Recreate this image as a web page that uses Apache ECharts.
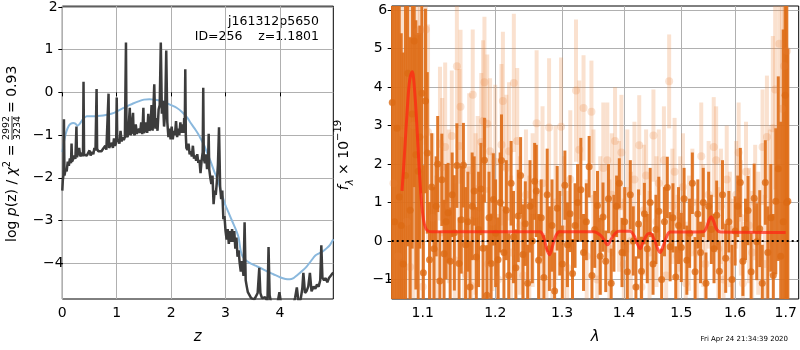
<!DOCTYPE html>
<html><head><meta charset="utf-8">
<script src="https://cdn.jsdelivr.net/npm/echarts@6/dist/echarts.min.js"></script>
<style>html,body{margin:0;padding:0;background:#fff}#c{width:800px;height:350px}</style>
</head><body><div id="c"></div>
<script>
// ---- p(z) panel ----
const pzZ = [0.00,0.01,0.02,0.03,0.04,0.06,0.08,0.10,0.12,0.14,0.16,0.17,0.18,0.20,0.22,0.24,0.26,0.27,0.29,0.31,0.33,0.35,0.37,0.38,0.39,0.40,0.42,0.45,0.48,0.50,0.52,0.55,0.57,0.59,0.61,0.63,0.64,0.66,0.69,0.72,0.75,0.77,0.79,0.81,0.83,0.85,0.86,0.88,0.91,0.93,0.95,0.97,0.99,1.00,1.01,1.03,1.05,1.07,1.09,1.11,1.13,1.15,1.17,1.18,1.20,1.22,1.24,1.25,1.27,1.29,1.30,1.31,1.33,1.35,1.37,1.39,1.41,1.43,1.45,1.47,1.49,1.50,1.52,1.54,1.56,1.58,1.60,1.62,1.64,1.66,1.69,1.71,1.73,1.75,1.77,1.79,1.81,1.83,1.85,1.87,1.89,1.91,1.93,1.95,1.97,1.99,2.01,2.03,2.05,2.07,2.09,2.11,2.13,2.15,2.17,2.19,2.21,2.23,2.24,2.25,2.26,2.27,2.28,2.30,2.32,2.34,2.36,2.38,2.40,2.42,2.44,2.46,2.48,2.50,2.52,2.54,2.56,2.58,2.59,2.60,2.62,2.64,2.66,2.68,2.69,2.70,2.72,2.74,2.76,2.78,2.80,2.82,2.84,2.86,2.88,2.90,2.92,2.94,2.96,2.98,3.00,3.02,3.04,3.06,3.08,3.10,3.12,3.14,3.16,3.18,3.20,3.22,3.24,3.26,3.28,3.30,3.33,3.35,3.37,3.39,3.41,3.44,3.47,3.50,3.53,3.56,3.59,3.62,3.64,3.67,3.70,3.73,3.77,3.79,3.81,3.84,3.88,3.92,3.96,3.99,4.02,4.06,4.10,4.15,4.20,4.25,4.28,4.31,4.34,4.38,4.41,4.43,4.46,4.49,4.52,4.55,4.58,4.62,4.65,4.68,4.71,4.74,4.76,4.78,4.81,4.84,4.87,4.90,4.93,4.96,4.98];
const pzLog = [-2.30,-2.05,-1.95,-0.63,-1.95,-1.80,-1.85,-1.62,-1.72,-1.55,-1.66,-1.20,-1.62,-1.56,-1.48,-1.56,-0.80,-1.52,-1.53,-1.30,-1.50,-1.52,-1.42,-1.50,0.25,-1.46,-1.50,-1.48,-1.51,-1.36,-1.48,-1.40,-1.45,-1.30,-1.36,0.08,-1.32,-1.38,-1.35,-1.38,-1.32,-1.36,-1.25,-1.34,-1.30,-0.03,-1.30,-1.28,-1.18,-1.30,-1.08,-1.25,-1.18,-0.12,-1.15,-1.10,-1.20,-0.90,-1.15,-1.05,-1.12,-1.05,1.17,-1.00,-1.05,-0.80,-0.36,-1.00,-0.95,-0.60,-0.48,-0.95,-1.00,-0.75,-0.97,-1.00,-0.85,-0.95,-0.70,-0.98,-0.36,-0.95,-0.90,-0.70,-0.95,-0.50,-0.90,-0.85,-0.30,-0.90,0.19,-0.85,-0.60,-0.90,-0.40,-0.30,1.17,-0.50,-0.20,-0.80,-0.50,0.98,-0.70,-1.05,-0.85,-1.10,-0.80,-1.10,-0.90,-1.00,-0.67,-1.05,-0.85,-1.00,-0.70,-0.95,-0.75,-0.95,-0.60,-0.90,0.54,-1.00,-1.30,-1.35,-1.20,-1.45,-1.38,-1.50,-1.25,-1.55,-1.48,-1.60,-1.45,-1.65,-1.58,-1.89,-1.60,-1.40,0.11,-1.55,-1.66,-1.45,-1.80,-1.55,-0.97,-1.80,-2.00,-2.15,-1.95,-2.62,-2.30,-2.40,-2.10,-1.70,-0.82,-2.20,-2.50,-2.30,-2.97,-2.90,-3.25,-3.45,-3.20,-3.55,-3.25,-3.50,-3.20,-3.50,-3.25,-3.66,-3.40,-3.85,-3.70,-4.00,-4.20,-3.95,-4.30,-3.04,-4.40,-4.55,-4.68,-4.75,-4.82,-4.80,-4.85,-4.82,-4.70,-4.11,-4.70,-4.82,-4.85,-4.80,-4.90,-3.62,-4.75,-4.95,-5.00,-4.95,-4.90,-4.68,-4.95,-5.05,-5.00,-5.10,-5.05,-4.95,-4.80,-4.57,-4.90,-4.85,-4.60,-4.23,-4.70,-4.65,-4.55,-4.23,-4.66,-4.55,-4.60,-4.50,-4.55,-4.40,-3.58,-4.34,-4.40,-4.35,-4.45,-4.35,-4.30,-4.25,-4.22];
const priorZ = [0.00,0.04,0.08,0.12,0.16,0.20,0.24,0.28,0.32,0.36,0.40,0.45,0.50,0.60,0.70,0.80,0.90,1.00,1.10,1.20,1.30,1.40,1.50,1.60,1.70,1.80,1.90,2.00,2.10,2.20,2.30,2.35,2.40,2.45,2.50,2.55,2.60,2.65,2.72,2.80,2.86,2.92,2.96,3.00,3.05,3.10,3.15,3.20,3.24,3.28,3.32,3.36,3.45,3.55,3.65,3.76,3.88,4.00,4.10,4.18,4.25,4.31,4.40,4.49,4.57,4.65,4.72,4.78,4.85,4.92,4.98];
const priorLog = [-1.40,-1.10,-0.90,-0.78,-0.73,-0.72,-0.73,-0.78,-0.74,-0.66,-0.60,-0.56,-0.56,-0.56,-0.55,-0.53,-0.50,-0.45,-0.38,-0.32,-0.26,-0.21,-0.17,-0.16,-0.17,-0.19,-0.24,-0.30,-0.36,-0.46,-0.60,-0.70,-0.79,-0.88,-0.98,-1.10,-1.22,-1.38,-1.60,-1.88,-2.06,-2.35,-2.50,-2.65,-2.80,-2.95,-3.10,-3.25,-3.40,-3.72,-3.86,-3.92,-4.00,-4.06,-4.12,-4.19,-4.26,-4.33,-4.37,-4.38,-4.35,-4.29,-4.19,-4.08,-3.95,-3.82,-3.77,-3.73,-3.66,-3.57,-3.44];
const zTicks = [0,1,2,3,4];
const pzTicks = [-4,-3,-2,-1,0,1,2];

// ---- spectrum panel: [lambda, flux, error] ----
const specDark = [
[1.0605,3.6,6],[1.0635,0.5,6],[1.0665,2.93,5],[1.0695,1.14,6],[1.0720,0.4,5],[1.0745,-0.6,5.5],[1.0775,1.7,5],[1.0805,4.36,4.5],[1.0835,0.8,4.5],[1.0862,3.3,3.5],[1.0888,5.2,3.8],[1.0910,2.24,3.5],[1.0940,1.81,3.6],[1.0962,2.7,2.9],[1.0988,3.84,2.6],[1.1008,-0.83,2.8],[1.1036,3.64,2.4],[1.1060,2.29,2.1],
[1.1090,-0.49,1.5],[1.1119,1.4,1.4],[1.1150,-0.2,1.6],[1.1178,0.9,1.3],[1.1199,2.0,1.25],[1.1228,-1.04,1.3],[1.1255,1.59,1.2],[1.1285,-0.33,1.4],[1.1312,0.5,1.5],[1.1340,0.73,1.3],[1.1368,-0.53,1.4],[1.1395,1.2,1.1],[1.1425,0.21,1.5],[1.1460,1.96,1.1],[1.1490,-0.59,1.2],[1.1520,0.55,1.4],[1.1550,1.97,1.1],[1.1580,-0.1,1.5],[1.1612,0.5,1.3],[1.1642,-1.2,1.2],[1.1672,0.9,1.4],[1.1700,1.3,0.9],[1.1730,-0.42,1.3],[1.1762,0.3,1.5],[1.1795,1.35,1.2],[1.1825,-0.19,1.4],[1.1845,2.1,1.1],[1.1880,-1.41,1.3],[1.1910,0.6,1.2],[1.1940,-0.59,1.3],[1.1972,1.08,1.2],[1.2005,0.2,1.4],[1.2040,-0.49,1.1],[1.2070,1.0,1.3],[1.2090,2.09,1.2],[1.2125,-0.3,1.2],[1.2160,0.8,1.3],[1.2195,-0.9,1.1],[1.2230,1.5,1.1],[1.2265,0.1,1.2],[1.2300,-0.7,1.0],[1.2335,0.65,1.2],[1.2370,1.7,1.0],[1.2405,-0.35,1.3],[1.2440,0.45,1.1],[1.2475,-1.1,1.0],[1.2510,0.9,1.2],[1.2545,0.0,1.1],[1.2580,1.55,1.0],[1.2605,1.3,1.2],[1.2640,-0.5,1.2],[1.2680,0.6,1.0],[1.2720,-0.95,1.1],[1.2771,1.2,1.2],[1.2805,-0.2,1.1],[1.2845,0.4,1.2],[1.2885,-1.3,1.0],[1.2925,0.85,1.1],[1.2965,0.2,1.1],[1.3005,-0.6,1.0],[1.3045,1.45,0.9],[1.3085,-0.1,1.1],[1.3126,0.71,1.0],[1.3165,-0.85,0.9],[1.3205,0.4,1.1],[1.3245,1.0,1.0],[1.3297,1.33,1.35],[1.3340,-0.3,1.0],[1.3385,0.5,1.0],[1.3430,1.93,0.8],[1.3475,-0.9,0.9],[1.3520,0.3,1.0],[1.3565,0.92,0.9],[1.3610,-0.4,1.0],[1.3655,0.62,0.9],[1.3700,-0.53,0.8],[1.3745,1.1,0.9],[1.3790,-1.1,0.9],[1.3835,0.2,1.0],[1.3880,0.9,0.8],[1.3925,1.5,0.65],[1.3970,-0.3,0.9],[1.4015,0.5,0.9],[1.4060,-0.8,0.8],[1.4110,1.2,0.9],[1.4160,0.0,0.9],[1.4205,-1.2,0.8],[1.4250,0.44,0.9],[1.4300,-0.79,0.9],[1.4350,0.71,0.8],[1.4400,-0.2,0.9],[1.4450,1.0,0.9],[1.4500,-0.6,0.8],[1.4550,0.3,0.9],[1.4600,0.77,0.9],[1.4650,-1.0,0.8],[1.4700,0.5,0.9],[1.4750,1.39,0.8],[1.4800,-0.15,0.9],[1.4850,0.6,0.9],[1.4900,-0.94,0.8],[1.4950,0.4,1.0],[1.5000,-0.17,0.9],[1.5050,1.1,0.8],[1.5100,-0.5,0.9],[1.5150,0.2,0.9],[1.5200,1.5,0.8],[1.5250,-0.8,0.9],[1.5300,0.7,0.9],[1.5350,-0.3,0.8],[1.5400,1.0,0.9],[1.5450,-1.1,0.8],[1.5500,0.9,0.9],[1.5550,0.3,0.9],[1.5600,-0.2,0.9],[1.5650,0.67,0.9],[1.5700,-0.79,0.8],[1.5760,1.2,0.9],[1.5820,-0.45,0.9],[1.5880,0.5,0.8],[1.5940,-1.0,0.9],[1.6000,0.26,0.9],[1.6050,0.9,0.8],[1.6100,1.52,0.9],[1.6150,-0.53,0.9],[1.6200,0.3,0.8],[1.6250,0.79,0.9],[1.6310,-0.8,1.0],[1.6370,1.11,0.9],[1.6420,-0.02,1.0],[1.6480,0.32,1.0],[1.6530,-1.1,1.0],[1.6590,1.52,1.1],[1.6640,-0.3,1.2],[1.6700,0.6,1.4],[1.6750,-0.9,1.6],[1.6800,1.03,1.9],[1.6850,1.88,2.4],[1.6900,-0.4,3.5],[1.6950,0.5,5],[1.6990,3.79,6],[1.7020,1.0,6],[1.7045,1.03,3.97]
];
const specLight = [
[1.0620,1.5,7],[1.0680,-0.4,7],[1.0740,2.8,7],[1.0790,0.5,6],[1.0834,-0.68,6],[1.0880,3.0,5],[1.0930,5.45,3],[1.0964,5.5,3.5],[1.1000,-1.19,3],[1.1040,5.5,3],[1.1070,2.83,2.8],[1.1130,0.6,2.2],[1.1180,-0.3,2.0],[1.1230,2.53,2.0],[1.1260,1.92,1.8],[1.1300,2.44,2.2],[1.1350,0.9,2.0],[1.1390,2.73,1.7],[1.1430,-0.5,2.0],[1.1460,4.54,1.6],[1.1495,2.47,2.0],[1.1510,3.49,2.0],[1.1560,0.2,1.9],[1.1590,-0.87,1.7],[1.1630,1.84,2.0],[1.1660,-1.17,1.8],[1.1680,3.8,1.7],[1.1720,0.7,2.1],[1.1750,1.35,1.9],[1.1800,2.57,1.8],[1.1825,3.12,2.1],[1.1845,4.13,1.7],[1.1885,3.05,1.8],[1.1900,-0.6,2.0],[1.1925,2.33,1.9],[1.1960,0.5,1.8],[1.2000,2.06,2.0],[1.2040,-1.0,1.7],[1.2090,2.5,2.1],[1.2110,3.64,1.8],[1.2160,1.9,1.9],[1.2200,2.33,1.8],[1.2230,-0.3,2.0],[1.2270,4.11,1.8],[1.2320,2.6,1.9],[1.2360,0.4,1.8],[1.2410,-0.9,2.0],[1.2450,1.2,1.7],[1.2500,-0.2,1.9],[1.2550,0.8,2.0],[1.2610,3.06,1.9],[1.2660,-0.5,1.8],[1.2700,1.5,2.0],[1.2760,0.1,1.9],[1.2800,2.95,1.8],[1.2850,-1.1,1.9],[1.2900,1.0,2.0],[1.2985,2.97,1.8],[1.3030,0.3,1.9],[1.3080,-0.7,2.0],[1.3130,1.6,1.8],[1.3220,3.91,1.85],[1.3272,2.37,1.8],[1.3340,3.46,1.37],[1.3390,-0.4,2.0],[1.3467,3.36,1.33],[1.3500,1.1,1.8],[1.3560,-1.0,1.9],[1.3610,0.4,1.8],[1.3660,1.9,1.7],[1.3726,2.1,1.5],[1.3760,-0.2,1.8],[1.3800,1.2,1.6],[1.3854,2.6,1.4],[1.3920,0.9,1.7],[1.3960,2.3,1.5],[1.4000,-0.6,1.7],[1.4060,1.3,1.6],[1.4120,0.0,1.8],[1.4180,1.6,1.5],[1.4262,2.49,1.3],[1.4300,-1.2,1.6],[1.4340,0.8,1.7],[1.4380,1.7,1.2],[1.4440,-0.3,1.6],[1.4507,2.74,1.2],[1.4560,0.5,1.7],[1.4600,1.5,1.4],[1.4690,2.1,1.4],[1.4730,-0.9,1.6],[1.4783,4.15,1.22],[1.4840,0.9,1.5],[1.4880,1.8,1.4],[1.4930,-0.4,1.6],[1.4980,0.7,1.5],[1.5030,1.4,1.4],[1.5080,-1.1,1.6],[1.5140,0.2,1.5],[1.5200,1.0,1.4],[1.5280,-0.3,1.4],[1.5363,2.2,1.4],[1.5400,0.4,1.6],[1.5440,-0.6,1.5],[1.5500,1.2,1.4],[1.5595,2.44,1.3],[1.5640,2.1,1.4],[1.5680,-0.2,1.6],[1.5730,0.9,1.5],[1.5780,-1.0,1.5],[1.5840,1.6,1.4],[1.5900,0.3,1.5],[1.5960,-0.5,1.6],[1.6020,1.2,1.4],[1.6068,2.3,1.3],[1.6110,0.6,1.5],[1.6150,-1.1,1.6],[1.6210,1.8,1.3],[1.6270,0.4,1.5],[1.6330,-0.3,1.6],[1.6390,1.0,1.5],[1.6450,0.2,1.6],[1.6535,2.44,1.5],[1.6580,-0.6,1.8],[1.6622,2.7,1.6],[1.6680,1.0,1.9],[1.6740,2.93,2.4],[1.6788,3.94,2.6],[1.6871,5.13,3.0],[1.6925,3.44,3.5],[1.6970,4.55,4.5],[1.7025,4.94,5.5]
];
const modelLam = [1.0730,1.0760,1.0800,1.0830,1.0862,1.0890,1.0920,1.0950,1.0980,1.1010,1.1040,1.1070,1.1120,1.2000,1.2660,1.2720,1.2760,1.2805,1.2850,1.2900,1.2960,1.3500,1.3620,1.3680,1.3730,1.3790,1.3860,1.3920,1.4100,1.4180,1.4230,1.4277,1.4330,1.4400,1.4450,1.4530,1.4580,1.4624,1.4680,1.4740,1.4800,1.5400,1.5460,1.5510,1.5545,1.5590,1.5650,1.5720,1.7000];
const modelFlux = [1.3,2.2,3.5,4.2,4.4,4.0,3.1,2.0,1.1,0.55,0.33,0.26,0.24,0.24,0.24,0.08,-0.2,-0.36,-0.15,0.12,0.24,0.24,0.14,0.0,-0.1,0.05,0.2,0.25,0.25,0.12,-0.08,-0.2,-0.02,0.17,0.2,0.0,-0.2,-0.3,-0.12,0.12,0.23,0.24,0.35,0.55,0.63,0.52,0.3,0.23,0.22];
const lamTicks = [1.1,1.2,1.3,1.4,1.5,1.6,1.7];
const fluxTicks = [-1,0,1,2,3,4,5,6];

const FONT = 'DejaVu Sans';
const lg = Math.log10;
const mfmt = v => String(v).replace('-', '\u2212');
const LAM_MIN = 1.0598, LAM_MAX = 1.7268, F_MIN = -1.51, F_MAX = 6.11;

function axisCommon(extra) {
  return Object.assign({
    axisLine: {show: false},
    splitLine: {show: true, lineStyle: {color: '#b0b0b0', width: 1}}
  }, extra);
}
function tickOpt(vals) {
  return {show: true, inside: false, length: 4, lineStyle: {color: '#000', width: 1}, customValues: vals};
}
function labelOpt(vals, margin, fmt) {
  return {color: '#000', fontFamily: FONT, fontSize: 14, margin: margin, customValues: vals, formatter: fmt,
    alignMinLabel: 'center', alignMaxLabel: 'center', hideOverlap: false};
}

function errBars(pts, color, width) {
  return {
    type: 'custom', xAxisIndex: 1, yAxisIndex: 1, silent: true, clip: true,
    data: pts.map(p => [lg(p[0]), p[1], p[2]]),
    renderItem: (params, api) => {
      const x = api.value(0), y = api.value(1), e = api.value(2);
      const hi = Math.min(y + e, F_MAX), lo = Math.max(y - e, F_MIN);
      const a = api.coord([x, hi]), b = api.coord([x, lo]);
      return {type: 'rect', shape: {x: a[0] - width / 2, y: a[1], width: width, height: b[1] - a[1]}, style: {fill: color}};
    }
  };
}

const chart = echarts.init(document.getElementById('c'), null, {renderer: 'canvas'});
chart.setOption({
  animation: false,
  backgroundColor: '#fff',
  grid: [
    {left: 62.3, top: 6, width: 271, height: 298, show: true, borderColor: '#000', borderWidth: 1, backgroundColor: 'transparent'},
    {left: 391.7, top: 6, width: 407, height: 298, show: true, borderColor: '#000', borderWidth: 1, backgroundColor: 'transparent'}
  ],
  xAxis: [
    axisCommon({type: 'value', gridIndex: 0, min: 0, max: 4.98,
      axisTick: tickOpt(zTicks), axisLabel: labelOpt(zTicks, 7, v => mfmt(v)),
      name: 'z', nameLocation: 'middle', nameGap: 31,
      nameTextStyle: {fontFamily: FONT, fontSize: 15, fontStyle: 'italic', color: '#000'}}),
    axisCommon({type: 'value', gridIndex: 1, min: lg(LAM_MIN), max: lg(LAM_MAX),
      axisTick: tickOpt(lamTicks.map(lg)), axisLabel: labelOpt(lamTicks.map(lg), 7, v => Math.pow(10, v).toFixed(1)),
      name: 'λ', nameLocation: 'middle', nameGap: 31,
      nameTextStyle: {fontFamily: FONT, fontSize: 15, fontStyle: 'italic', color: '#000'}})
  ],
  yAxis: [
    axisCommon({type: 'value', gridIndex: 0, min: -4.84, max: 2.02,
      axisTick: tickOpt(pzTicks), axisLabel: labelOpt(pzTicks, 9, v => mfmt(v))}),
    axisCommon({type: 'value', gridIndex: 1, min: F_MIN, max: F_MAX,
      axisTick: tickOpt(fluxTicks), axisLabel: labelOpt(fluxTicks, 9, v => mfmt(v))})
  ],
  series: [
    {type: 'line', xAxisIndex: 0, yAxisIndex: 0, data: priorZ.map((z, i) => [z, priorLog[i]]),
      showSymbol: false, smooth: 0.3, lineStyle: {color: '#8ab8dd', width: 2}, silent: true},
    {type: 'line', xAxisIndex: 0, yAxisIndex: 0, data: pzZ.map((z, i) => [z, pzLog[i]]),
      showSymbol: false, lineStyle: {color: '#3c3c3c', width: 2.5}, silent: true},
    errBars(specLight, 'rgba(236,140,70,0.26)', 4),
    {type: 'scatter', xAxisIndex: 1, yAxisIndex: 1, data: specLight.map(p => [lg(p[0]), p[1]]),
      symbolSize: 8, itemStyle: {color: 'rgba(232,130,60,0.28)'}, silent: true},
    errBars(specDark, 'rgba(222,110,25,0.92)', 3),
    {type: 'scatter', xAxisIndex: 1, yAxisIndex: 1, data: specDark.map(p => [lg(p[0]), p[1]]),
      symbolSize: 7, itemStyle: {color: '#dc6a14'}, silent: true},
    {type: 'line', xAxisIndex: 1, yAxisIndex: 1, data: modelLam.map((l, i) => [lg(l), modelFlux[i]]),
      showSymbol: false, smooth: 0.35, lineStyle: {color: 'rgba(255,35,20,0.72)', width: 3}, silent: true,
      markLine: {silent: true, symbol: 'none', label: {show: false},
        lineStyle: {color: '#000', width: 2, type: [2, 3]}, data: [{yAxis: 0}]}}
  ],
  graphic: [
    {type: 'text', right: 800 - 319, top: 15, style: {text: 'j161312p5650', font: '12.5px "DejaVu Sans"', fill: '#000', align: 'right'}},
    {type: 'text', right: 800 - 319, top: 30, style: {text: 'ID=256    z=1.1801', font: '12.5px "DejaVu Sans"', fill: '#000', align: 'right'}},
    {type: 'group', x: 12, y: 155, rotation: Math.PI / 2, children: [
      {type: 'text', x: -87, y: 0, style: {
        text: '{r|log }{i|p}{r|(z) / }{i|χ}{s|2}{r| =}', align: 'left', verticalAlign: 'middle', fill: '#000',
        rich: {r: {fontFamily: FONT, fontSize: 14, lineHeight: 20}, i: {fontFamily: FONT, fontSize: 14, fontStyle: 'italic', lineHeight: 20},
               s: {fontFamily: FONT, fontSize: 10, verticalAlign: 'top', lineHeight: 20}}}},
      {type: 'text', x: 27, y: -5, style: {text: '2992', font: '9.5px "DejaVu Sans"', fill: '#000', align: 'center', verticalAlign: 'middle'}},
      {type: 'line', shape: {x1: 15, y1: 0, x2: 39, y2: 0}, style: {stroke: '#000', lineWidth: 0.8}},
      {type: 'text', x: 27, y: 5.5, style: {text: '3234', font: '9.5px "DejaVu Sans"', fill: '#000', align: 'center', verticalAlign: 'middle'}},
      {type: 'text', x: 42, y: 0, style: {text: '= 0.93', font: '14px "DejaVu Sans"', fill: '#000', align: 'left', verticalAlign: 'middle'}}
    ]},
    {type: 'group', x: 344, y: 155, rotation: Math.PI / 2, children: [
      {type: 'text', x: 0, y: 0, style: {
        text: '{i|f}{sb|λ}{r| × 10}{sp|−19}', align: 'center', verticalAlign: 'middle', fill: '#000',
        rich: {r: {fontFamily: FONT, fontSize: 14, lineHeight: 22}, i: {fontFamily: FONT, fontSize: 14, fontStyle: 'italic', lineHeight: 22},
               sb: {fontFamily: FONT, fontSize: 10, fontStyle: 'italic', verticalAlign: 'bottom', lineHeight: 22},
               sp: {fontFamily: FONT, fontSize: 10, verticalAlign: 'top', lineHeight: 22}}}}
    ]},
    {type: 'text', right: 800 - 788, top: 336, style: {text: 'Fri Apr 24 21:34:39 2020', font: '7px "DejaVu Sans"', fill: '#000', align: 'right'}}
  ]
});
</script>
</body></html>
